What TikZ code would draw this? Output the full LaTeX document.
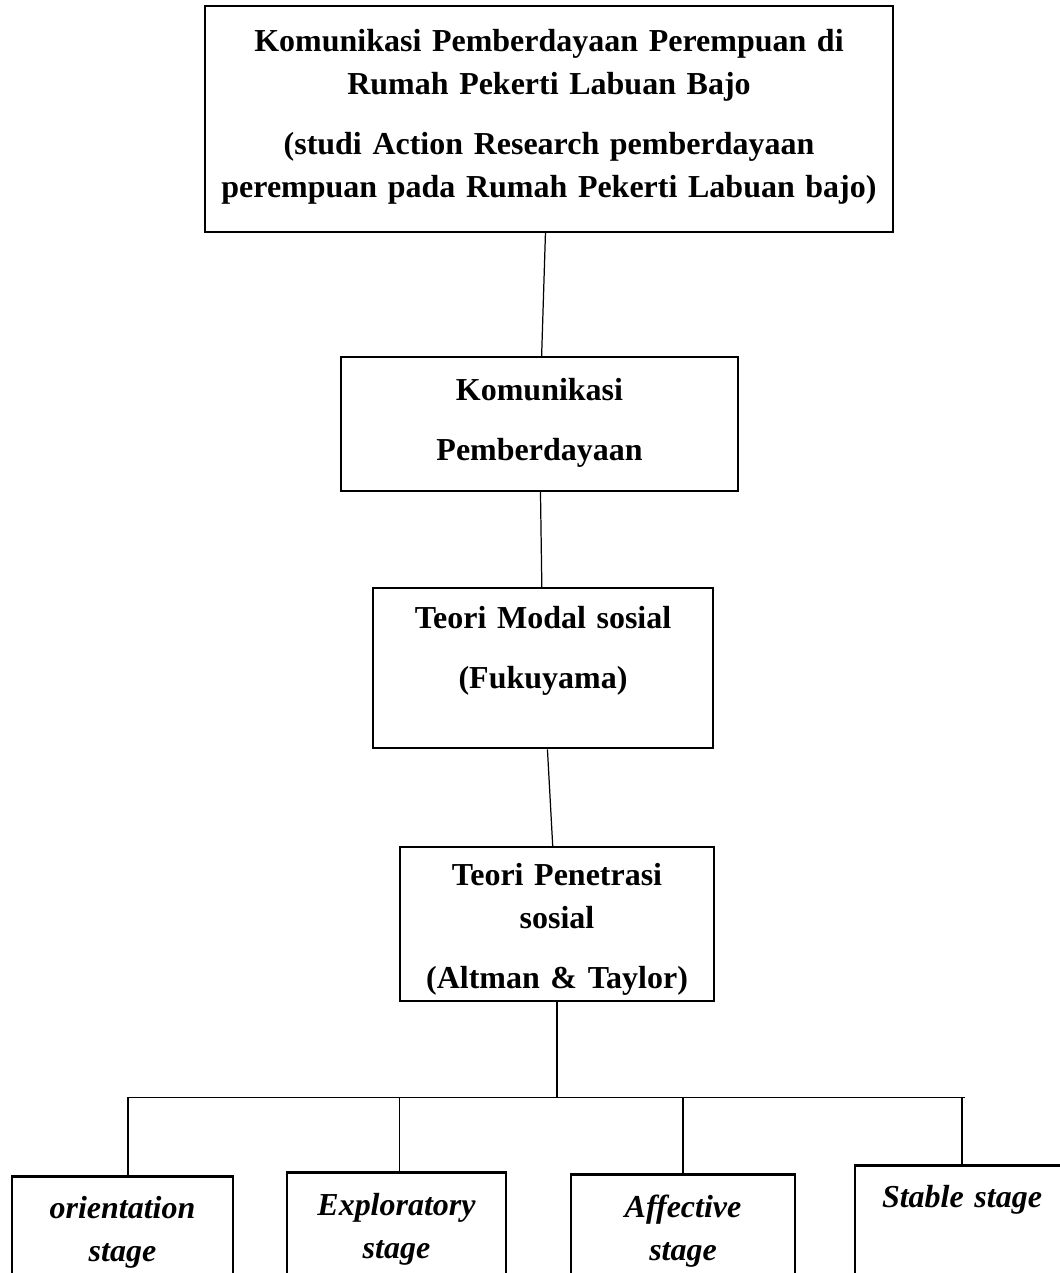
\documentclass[tikz,border=0pt]{standalone}
\usepackage{fontspec}
\setmainfont{Liberation Serif}
\usetikzlibrary{positioning}

\begin{document}
\begin{tikzpicture}[node distance=1cm]

\tikzstyle{bx} = [rectangle, draw=black, line width=0.6pt, inner sep=0pt, align=center, anchor=north, font=\fontsize{9.1pt}{12.23pt}\selectfont\bfseries]
\tikzstyle{st} = [bx, line width=0.8pt, font=\fontsize{9.1pt}{12.23pt}\selectfont\bfseries\itshape]
\tikzstyle{ln} = [line width=0.35pt]
\useasboundingbox (0,0) rectangle (10.6,-12.73);
\clip (0,0) rectangle (10.6,-12.73);
\node (title) [bx, text width=6.88cm, text height=0.45cm, text depth=1.81cm] at (5.49,-0.05) {Komunikasi Pemberdayaan Perempuan di\\Rumah Pekerti Labuan Bajo\\[0.17cm](studi Action Research pemberdayaan\\perempuan pada Rumah Pekerti Labuan bajo)};
\node (kom) [bx, below=1.23 of title, xshift=-0.095cm, text width=3.97cm, text height=0.43cm, text depth=0.91cm] {Komunikasi\\[0.17cm]Pemberdayaan};
\node (modal) [bx, below=0.95 of kom, xshift=0.035cm, text width=3.40cm, text height=0.40cm, text depth=1.20cm] {Teori Modal sosial\\[0.17cm](Fukuyama)};
\node (penetrasi) [bx, below=0.97 of modal, xshift=0.14cm, text width=3.14cm, text height=0.38cm, text depth=1.16cm] {Teori Penetrasi\\sosial\\[0.17cm](Altman \& Taylor)};
\coordinate [below=0.95 of penetrasi] (split);
\node (orient) [st, text width=2.21cm, text height=0.42cm, text depth=2cm] at (1.225,-11.75) {orientation\\stage};
\node (explor) [st, text width=2.19cm, text height=0.43cm, text depth=2cm] at (3.965,-11.71) {Exploratory\\stage};
\node (affect) [st, text width=2.24cm, text height=0.43cm, text depth=2cm] at (6.83,-11.73) {Affective\\stage};
\node (stable) [st, text width=2.14cm, text height=0.42cm, text depth=2cm] at (9.62,-11.64) {Stable stage};
\coordinate (barL) at ([xshift=0.055cm]orient.north |- split);
\coordinate (barR) at ([xshift=0.03cm]stable.north |- split);
\draw [ln] (title) -- (kom);
\draw [ln] (kom) -- (modal);
\draw [ln] (modal) -- (penetrasi);
\draw [ln] (penetrasi) -- (split);
\draw [ln] (barL) -- (barR);
\foreach \s/\dx in {orient/0.055, explor/0.03, affect/0, stable/0}
  \draw [ln] ([xshift=\dx cm]\s.north) -- ([xshift=\dx cm]\s.north |- split);
\end{tikzpicture}
\end{document}
